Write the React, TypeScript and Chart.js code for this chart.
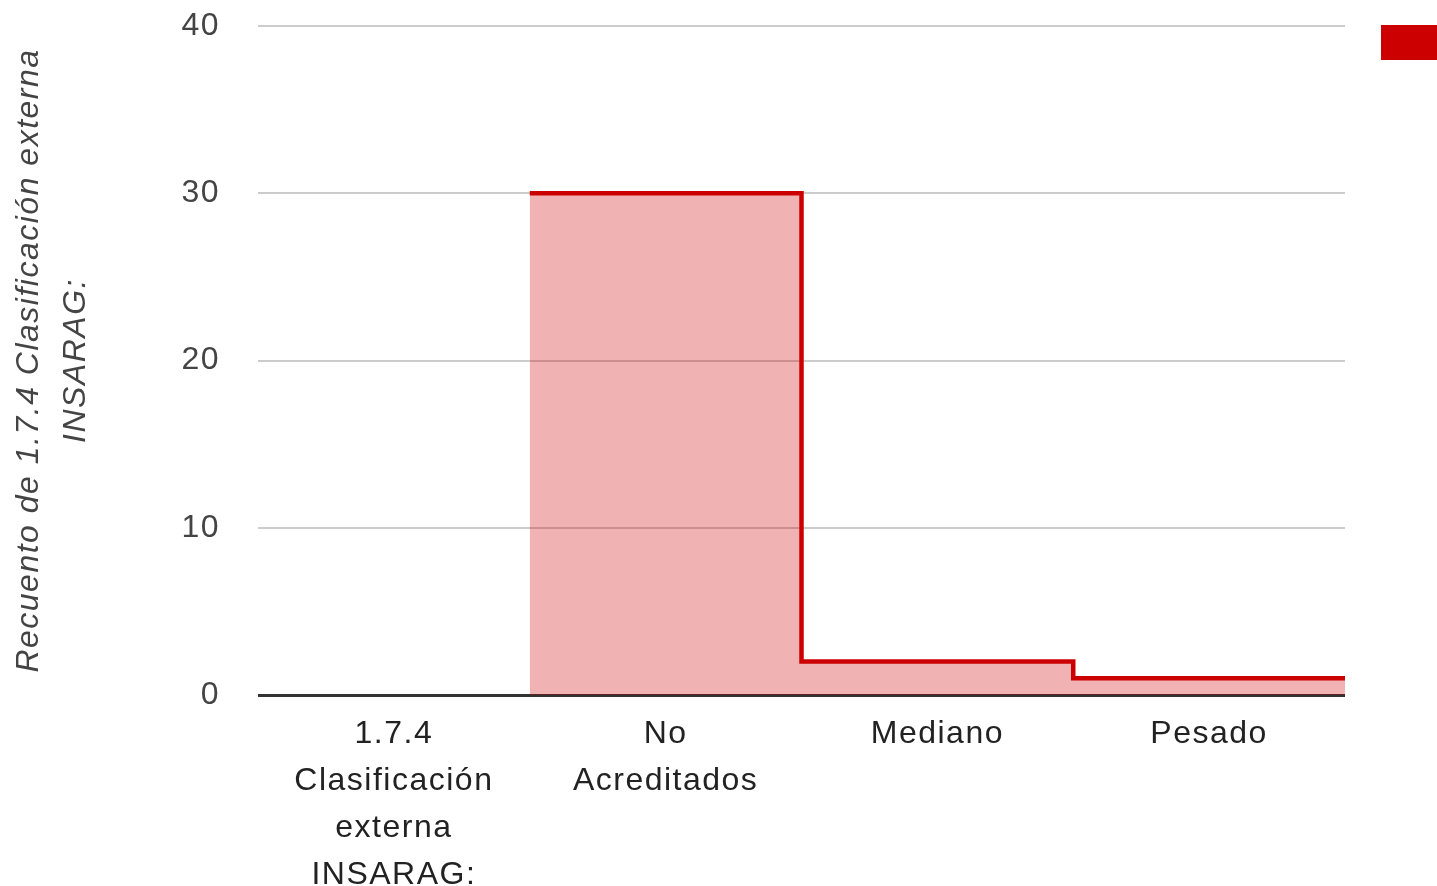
import React, { useEffect, useRef } from "react";
import { Chart, registerables } from "chart.js";

Chart.register(...registerables);

const categories: string[][] = [
  ["1.7.4", "Clasificación", "externa", "INSARAG:"],
  ["No", "Acreditados"],
  ["Mediano"],
  ["Pesado"],
];
const counts: (number | null)[] = [null, 30, 2, 1];
const yTicks: number[] = [0, 10, 20, 30, 40];
const yTitle: string[] = ["Recuento de 1.7.4 Clasificación externa", "INSARAG:"];
const seriesColor = "#cc0000";

const FONT = "'Liberation Sans', Arial, sans-serif";

export default function App() {
  const ref = useRef<HTMLCanvasElement | null>(null);

  useEffect(() => {
    if (!ref.current) return;
    const n = categories.length;
    const pts = counts.map((v, i) => ({ x: i, y: v }));
    pts.push({ x: n, y: counts[n - 1] });

    const legendBox = {
      id: "legendBox",
      afterDraw(chart: any) {
        const { ctx, chartArea } = chart;
        ctx.save();
        ctx.fillStyle = seriesColor;
        ctx.fillRect(chartArea.right + 36, chartArea.top - 1, 56, 35);
        ctx.restore();
      },
    };
    const spacing = {
      id: "spacing",
      beforeDraw(chart: any) {
        chart.ctx.letterSpacing = "1.5px";
      },
    };

    const chart = new Chart(ref.current, {
      type: "line",
      data: {
        datasets: [
          {
            label: "Recuento",
            data: pts as any,
            stepped: "before",
            borderColor: seriesColor,
            borderWidth: 4.5,
            backgroundColor: "rgba(204,0,0,0.3)",
            fill: "origin",
            pointRadius: 0,
            spanGaps: false,
            borderJoinStyle: "miter",
            borderCapStyle: "butt",
          },
        ],
      },
      plugins: [spacing, legendBox],
      options: {
        animation: false,
        responsive: false,
        maintainAspectRatio: false,
        layout: { padding: { top: 26, right: 92, left: 0, bottom: 0 } },
        plugins: {
          legend: { display: false },
          tooltip: { enabled: false },
        },
        scales: {
          x: {
            type: "linear",
            min: 0,
            max: n,
            grid: { display: false },
            border: { display: false },
            afterBuildTicks(scale: any) {
              scale.ticks = categories.map((_, i) => ({ value: i + 0.5 }));
            },
            afterFit(scale: any) {
              scale.height = 886 - 695;
            },
            ticks: {
              autoSkip: false,
              maxRotation: 0,
              minRotation: 0,
              padding: 8,
              color: "#222",
              font: { family: FONT, size: 32, lineHeight: 1.47 },
              callback: (v: any) => categories[Math.floor(Number(v))] ?? "",
            },
          },
          y: {
            min: 0,
            max: 40,
            afterBuildTicks(scale: any) {
              scale.ticks = yTicks.map((v) => ({ value: v }));
            },
            afterFit(scale: any) {
              scale.width = 258;
              scale.paddingTop = 20;
              scale.paddingBottom = 20;
            },
            border: { display: false },
            grid: {
              drawTicks: false,
              color: (c: any) => (c.tick && c.tick.value === 0 ? "#333333" : "#cccccc"),
              lineWidth: (c: any) => (c.tick && c.tick.value === 0 ? 3 : 2),
            },
            ticks: {
              padding: 38,
              color: "#444",
              font: { family: FONT, size: 32 },
            },
            title: {
              display: true,
              text: yTitle,
              color: "#444",
              font: { family: FONT, size: 32, style: "italic", lineHeight: 1.47 },
              padding: { top: 6, bottom: 0 },
            },
          },
        },
      },
    });
    return () => chart.destroy();
  }, []);

  return (
    <div style={{ position: "fixed", left: 0, top: 0, width: 1437, height: 886, background: "#fff" }}>
      <canvas ref={ref} width={1437} height={886} style={{ display: "block", width: 1437, height: 886 }} />
    </div>
  );
}
